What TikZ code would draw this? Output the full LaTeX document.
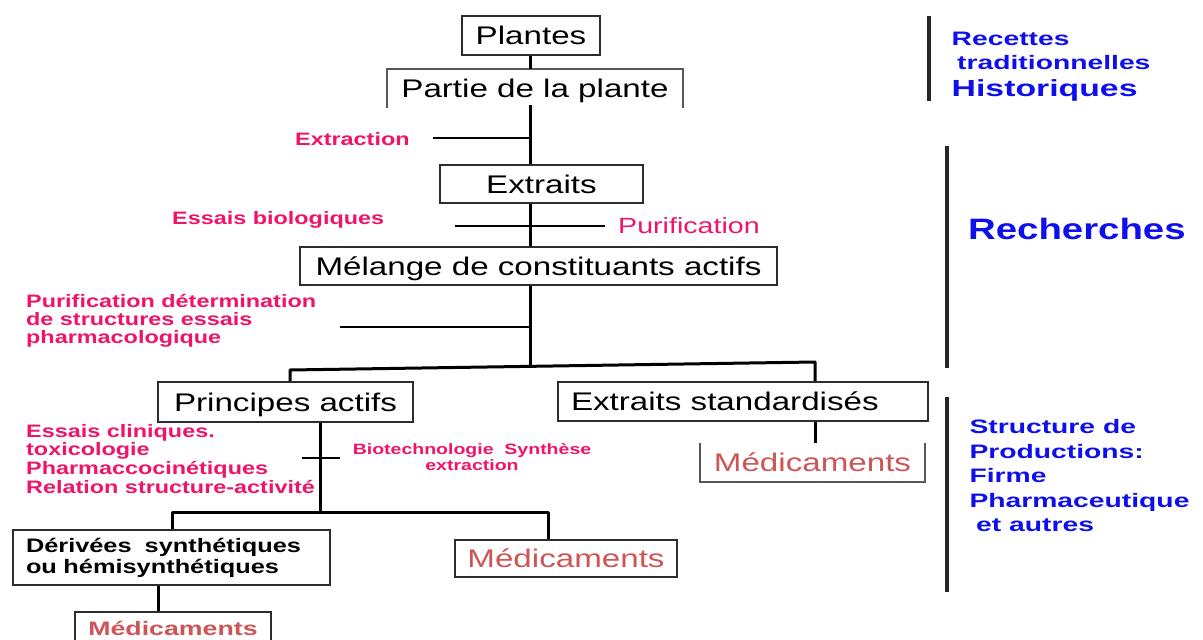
\documentclass[tikz,border=0pt]{standalone}
\usepackage{fontspec}
\setmainfont[FakeStretch=1.3]{Liberation Sans}
\newfontfamily\widef[FakeStretch=1.45]{Liberation Sans}
\newfontfamily\midwf[FakeStretch=1.37]{Liberation Sans}
\definecolor{lab}{RGB}{240,20,105}
\definecolor{blu}{RGB}{15,15,235}
\definecolor{med}{RGB}{205,85,85}
\definecolor{edge}{RGB}{45,45,45}
\begin{document}
\begin{tikzpicture}[x=1pt,y=-1pt,
  boxtxt/.style={inner sep=0pt,font=\fontsize{25.5}{30}\selectfont,text height=18.3pt,text depth=0pt},
  boxn/.style={boxtxt,draw=edge,line width=2pt},
  openbox/.style={draw=edge!80!white,line width=2pt},
  trunk/.style={line width=3pt,draw=black},
  tick/.style={line width=2.5pt,draw=black},
  bar/.style={line width=4pt,draw=black!85},
  lbl/.style={text=lab,font=\bfseries\fontsize{18}{18.7}\selectfont,inner sep=0pt,align=left},
  blab/.style={text=blu,inner sep=0pt,align=left}]
\useasboundingbox (0,0) rectangle (1203,640);
\clip (0,0) rectangle (1203,640);

% boxes
\node[boxn, minimum width=138pt, minimum height=39pt] (pl) at (531,35.5) {Plantes};
\node[boxtxt, minimum width=296pt, minimum height=39pt] (pp) at (535,88.5) {Partie de la plante};
\draw[openbox] (pp.south west) -- (pp.north west) -- (pp.north east) -- (pp.south east);
\node[boxn, minimum width=203pt, minimum height=38pt] (ex) at (541.5,184) {Extraits};
\node[boxn, minimum width=477pt, minimum height=38pt] (mel) at (538.5,266) {Mélange de constituants actifs};
\node[boxn, minimum width=255pt, minimum height=40pt] (pa) at (285.5,402) {Principes actifs};
\node[boxn, minimum width=370pt, minimum height=39pt, inner xsep=13pt] (es) at (743,401.5) {\makebox[344pt][l]{Extraits standardisés}};
\node[boxtxt, text=med, minimum width=225pt, minimum height=39pt] (m1) at (812.5,462.5) {Médicaments};
\draw[openbox] (m1.north west) -- (m1.south west) -- (m1.south east) -- (m1.north east);
\node[draw=edge, line width=2pt, inner xsep=13pt, inner ysep=0pt, minimum width=317pt, minimum height=55pt, align=left, text width=291pt, font=\bfseries\fontsize{19.5}{21}\selectfont] (der) at (171.5,557.5) {Dérivées~ synthétiques\\ou hémisynthétiques};
\node[boxn, text=med, minimum width=222pt, minimum height=37pt] (m2) at (566,558.5) {Médicaments};
\node[draw=edge, line width=2pt, inner sep=0pt, text=med, text height=14pt, text depth=0pt, minimum width=196pt, minimum height=33pt, font=\midwf\bfseries\fontsize{19.5}{22}\selectfont] (m3) at (173,628.5) {Médicaments};

% connectors
\coordinate (t1) at (530,105);
\draw[trunk] (pl.south -| t1) -- (pp.north -| t1);
\draw[trunk] (t1) -- (ex.north -| t1);
\coordinate (c1) at (433,138);
\draw[tick] (c1) -- (c1 -| t1);
\draw[trunk] (ex.south -| t1) -- (mel.north -| t1);
\coordinate (c2a) at (455,226);
\coordinate (c2b) at (605,226);
\draw[tick] (c2a) -- (c2b);
\coordinate (t3) at (530,366);
\draw[trunk] (mel.south -| t1) -- (t3);
\coordinate (c3) at (340,327);
\draw[tick] (c3) -- (c3 -| t1);
\coordinate (bl) at (290,370);
\coordinate (br) at (815,362);
\draw[trunk, line join=round] (pa.north -| bl) -- (bl) -- (br) -- (es.north -| br);
\coordinate (t4) at (320,512);
\draw[trunk] (pa.south -| t4) -- (t4);
\coordinate (c4a) at (302,458);
\coordinate (c4b) at (340,458);
\draw[tick] (c4a) -- (c4b);
\coordinate (b2l) at (172,512);
\coordinate (b2r) at (548,512);
\draw[trunk, line join=round] (der.north -| b2l) -- (b2l) -- (b2r) -- (m2.north -| b2r);
\draw[trunk] (es.south -| br) -- (m1.north -| br);
\coordinate (x5) at (158,600);
\draw[trunk] (der.south -| x5) -- (m3.north -| x5);

% red labels
\node[lbl, anchor=base west] (lextr) at (295,145.5) {Extraction};
\node[lbl, anchor=base west] (lessb) at (172,224) {Essais biologiques};
\node[lbl, anchor=base west, font=\fontsize{22}{26}\selectfont] (lpur) at (618,233) {Purification};
\node[lbl, anchor=base west, font=\bfseries\fontsize{18}{18}\selectfont] (lpdet) at (26,343.3) {Purification détermination\\de structures essais\\pharmacologique};
\node[lbl, anchor=base west] (lcli) at (26,493.3) {Essais cliniques.\\toxicologie\\Pharmaccocinétiques\\Relation structure-activité};
\node[lbl, anchor=base, align=center, font=\bfseries\fontsize{15}{16.5}\selectfont] (lbio) at (472,470.5) {Biotechnologie~ Synthèse\\extraction};

% right side
\coordinate (r1a) at (929,16); \coordinate (r1b) at (929,101);
\coordinate (r2a) at (947,146); \coordinate (r2b) at (947,368);
\coordinate (r3a) at (947,397); \coordinate (r3b) at (947,592);
\draw[bar] (r1a) -- (r1b);
\draw[bar] (r2a) -- (r2b);
\draw[bar] (r3a) -- (r3b);
\node[blab, anchor=base west, font=\widef\bfseries\fontsize{19.5}{22}\selectfont] (lrec) at (951.5,45.7) {Recettes};
\node[blab, anchor=base west, font=\widef\bfseries\fontsize{19.5}{22}\selectfont] (ltrad) at (957,69.3) {traditionnelles};
\node[blab, anchor=base west, font=\widef\bfseries\fontsize{23.3}{26}\selectfont] (lhist) at (951.5,96.7) {Historiques};
\node[blab, anchor=base west, font=\bfseries\fontsize{29.5}{32}\selectfont] (lrech) at (968,239.3) {Recherches};
\node[blab, anchor=base west, font=\widef\bfseries\fontsize{19.5}{24.5}\selectfont] (lstr) at (969.3,531.7) {Structure de\\Productions:\\Firme\\Pharmaceutique\\\hspace*{6.7pt}et autres};
\end{tikzpicture}
\end{document}
